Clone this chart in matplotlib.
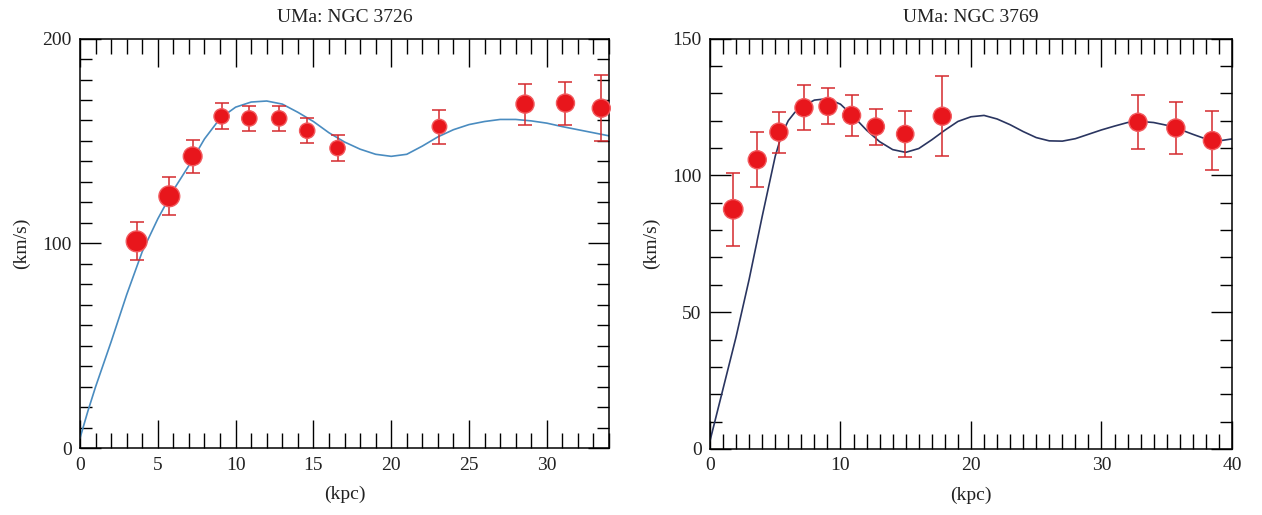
import matplotlib
matplotlib.use("Agg")
import matplotlib.pyplot as plt
from matplotlib.ticker import MultipleLocator

plt.rcParams['font.family'] = ['Liberation Serif', 'DejaVu Serif']
plt.rcParams['font.size'] = 14

# --- UMa: NGC 3726 ---
r_3726 = [3.64, 5.74, 7.24, 9.1, 10.88, 12.8, 14.6, 16.55, 23.1, 28.6, 31.2, 33.5]
v_3726 = [101, 123, 142.5, 162, 161, 161, 155, 146.5, 157, 168, 168.5, 166]
e_3726 = [9.3, 9.3, 8, 6.3, 6.3, 6.3, 6.2, 6.2, 8.3, 10, 10.5, 16]
fit_r_3726 = [0, 0.5] + list(range(1, 35))
fit_v_3726 = [5, 18, 30, 52, 75, 96, 112, 126, 138, 151, 161, 166.5, 169, 169.5, 168,
              164, 159.5, 154, 149.5, 146, 143.5, 142.5, 143.5, 147.5, 152, 155.5,
              158, 159.5, 160.5, 160.5, 159.8, 158.7, 157, 155.5, 154, 152.5]

# --- UMa: NGC 3769 ---
r_3769 = [1.78, 3.62, 5.28, 7.2, 9.04, 10.85, 12.7, 14.96, 17.8, 32.8, 35.7, 38.5]
v_3769 = [87.6, 105.7, 115.8, 124.7, 125.2, 121.9, 117.8, 115.1, 121.6, 119.4, 117.3, 112.7]
e_3769 = [13.3, 10, 7.5, 8.2, 6.6, 7.5, 6.6, 8.5, 14.7, 9.8, 9.5, 10.8]
fit_r_3769 = [0, 1, 2, 3, 4, 5, 5.5, 6, 6.5] + list(range(7, 41))
fit_v_3769 = [3, 22, 41, 62, 85, 107, 115, 120, 123, 125, 127.5, 128, 126, 121.5,
              116.5, 112.3, 109.4, 108.4, 109.8, 113, 116.5, 119.7, 121.4, 121.9,
              120.6, 118.5, 116, 113.8, 112.6, 112.5, 113.4, 115, 116.6, 118, 119.3,
              119.7, 119.3, 118.3, 116.8, 115, 113.3, 112.6, 113.3]

# marker sizes (points) as they appear in the figure
ms_3726 = [15, 15, 13.5, 11, 11, 11, 11, 11, 10.5, 13, 13, 13]
ms_3769 = [14, 13, 13, 13, 13, 13, 12.5, 12.5, 13, 13, 13, 13]

TXT = "#222222"
RED = "#e8161c"
ERR = "#d42a2e"


def panel(ax, r, v, e, ms, fr, fv, line_col, title, xmax, ymax, xmajor, ymajor):
    ax.plot(fr, fv, color=line_col, lw=1.2, zorder=2)
    ax.errorbar(r, v, yerr=e, fmt="none", ecolor=ERR, elinewidth=1.1,
                capsize=5, capthick=1.1, zorder=3, clip_on=False)
    ax.scatter(r, v, s=[m ** 2 for m in ms], color=RED, edgecolor="#f25a5e",
               linewidth=1.0, zorder=4, clip_on=False)
    ax.set_xlim(0, xmax)
    ax.set_ylim(0, ymax)
    ax.xaxis.set_major_locator(MultipleLocator(xmajor))
    ax.xaxis.set_minor_locator(MultipleLocator(1))
    ax.yaxis.set_major_locator(MultipleLocator(ymajor))
    ax.yaxis.set_minor_locator(MultipleLocator(10))
    ax.tick_params(which="both", direction="in", top=True, right=True,
                   width=1.0, colors="black", labelcolor=TXT, labelsize=14)
    ax.tick_params(axis="x", which="major", length=20, pad=6)
    ax.tick_params(axis="x", which="minor", length=10.5)
    ax.tick_params(axis="y", which="major", length=15, pad=6)
    ax.tick_params(axis="y", which="minor", length=8.5)
    for s in ax.spines.values():
        s.set_linewidth(1.1)
    ax.set_title(title, fontsize=14, color=TXT, pad=12)
    ax.set_xlabel("(kpc)", fontsize=14, color=TXT, labelpad=9)
    ax.set_ylabel("(km/s)", fontsize=14, color=TXT, labelpad=9)


fig = plt.figure(figsize=(12.62, 5.15), dpi=100)
ax1 = fig.add_axes([0.0634, 0.1295, 0.4192, 0.7957])
ax2 = fig.add_axes([0.5626, 0.1282, 0.4136, 0.797])

panel(ax1, r_3726, v_3726, e_3726, ms_3726, fit_r_3726, fit_v_3726,
      "#4a8cc0", "UMa: NGC 3726", 34, 200, 5, 100)
panel(ax2, r_3769, v_3769, e_3769, ms_3769, fit_r_3769, fit_v_3769,
      "#2a3560", "UMa: NGC 3769", 40, 150, 10, 50)

fig.savefig("out.png", dpi=100)
